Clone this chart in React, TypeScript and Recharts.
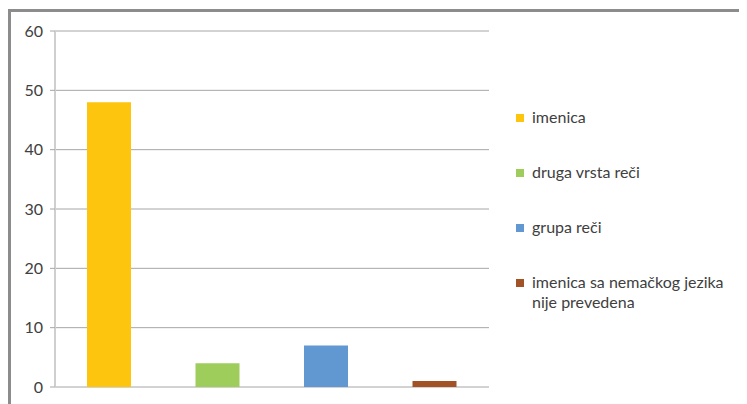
import { BarChart, Bar, Cell, XAxis, YAxis, CartesianGrid } from 'recharts'

const categories = ['imenica', 'druga vrsta reči', 'grupa reči', 'imenica sa nemačkog jezika nije prevedena']
const counts = [48, 4, 7, 1]
const colors = ['#FDC50E', '#9ECD5C', '#6298D2', '#A35226']
const yTicks = [0, 10, 20, 30, 40, 50, 60]

const data = categories.map((name, i) => ({ name, value: counts[i] }))

const FONT = 'Lato, "Open Sans", sans-serif'
const TEXT = '#404040'
const GRID = '#A6A6A6'

function LegendBox() {
  return (
    <div
      style={{
        position: 'absolute',
        left: 505,
        top: 95,
        width: 230,
        fontFamily: FONT,
        fontSize: 16,
        color: TEXT,
      }}
    >
      {categories.map((c, i) => (
        <div key={c} style={{ display: 'flex', alignItems: 'flex-start', height: 55 }}>
          <span
            style={{
              display: 'inline-block',
              width: 8,
              height: 8,
              background: colors[i],
              marginTop: 7,
              marginRight: 8,
              flexShrink: 0,
            }}
          />
          <span style={{ width: 210, lineHeight: '20px' }}>{c}</span>
        </div>
      ))}
    </div>
  )
}

export default function App() {
  return (
    <div
      style={{
        position: 'relative',
        marginTop: 1,
        width: 736,
        height: 392,
        borderTop: '3px solid #8C8C8C',
        borderLeft: '3px solid #8C8C8C',
        background: '#fff',
      }}
    >
      <BarChart
        width={736}
        height={392}
        data={data}
        margin={{ top: 19, right: 258, left: 1, bottom: 17 }}
      >
        <CartesianGrid vertical={false} stroke={GRID} />
        <XAxis dataKey="name" hide />
        <YAxis
          width={43}
          domain={[0, 60]}
          ticks={yTicks}
          interval={0}
          axisLine={{ stroke: '#CFCFCF', strokeWidth: 2 }}
          tickLine={{ stroke: GRID }}
          tickSize={5}
          tickMargin={7}
          tick={{ fontSize: 16, fill: TEXT, fontFamily: FONT }}
        />
        <Bar dataKey="value" barSize={44} isAnimationActive={false}>
          {data.map((d, i) => (
            <Cell key={d.name} fill={colors[i]} />
          ))}
        </Bar>
      </BarChart>
      <LegendBox />
    </div>
  )
}
